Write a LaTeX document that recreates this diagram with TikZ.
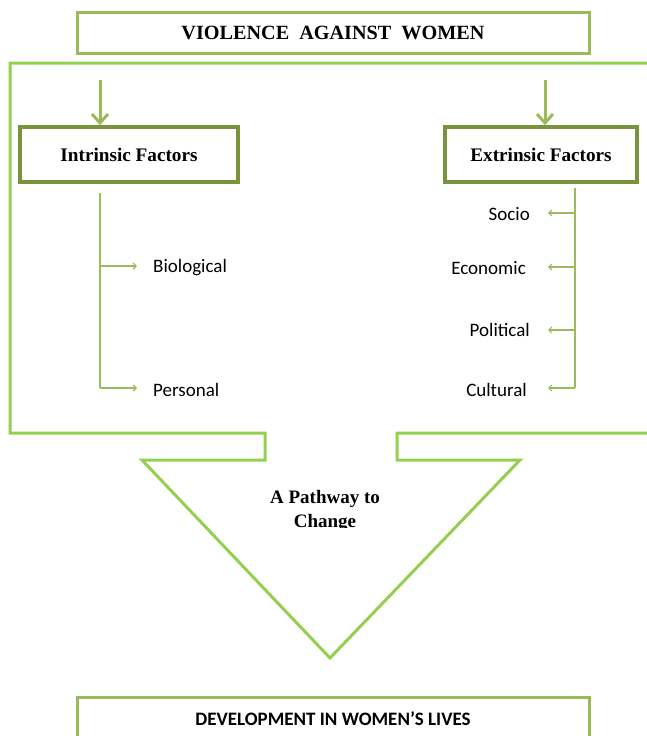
\documentclass[tikz,border=0pt]{standalone}
\usepackage{fontspec}
\setmainfont{Liberation Serif}
\newfontfamily\calib{Carlito}
\usetikzlibrary{arrows.meta}
\definecolor{lgreen}{HTML}{92D050}
\definecolor{mgreen}{HTML}{9BBB59}
\definecolor{dgreen}{HTML}{77933C}
\tikzset{
  titlebox/.style={draw=mgreen, line width=3pt, minimum width=512pt, minimum height=41pt, inner sep=0pt},
  factorbox/.style={draw=dgreen, line width=3.5pt, minimum height=55pt, inner sep=0pt, font=\fontsize{19.2}{22}\selectfont\bfseries},
  bigarrow/.style={draw=mgreen, line width=3pt, -{Straight Barb[length=9pt,width=16pt,line width=3pt]}},
  branch/.style={draw=mgreen, line width=1.2pt, -{Straight Barb[length=3pt,width=6pt,line width=1.2pt]}},
  stem/.style={draw=mgreen, line width=1.2pt},
  lbl/.style={font=\calib\fontsize{19}{22}\selectfont, inner sep=0pt},
}
\begin{document}
\begin{tikzpicture}[x=1pt,y=-1pt]
\useasboundingbox (0,0) rectangle (647,736);
% title
\node[titlebox, font=\fontsize{20.2}{23}\selectfont\bfseries] (title) at (333,32.5) {VIOLENCE\ \ AGAINST\ \ WOMEN};
% outline with funnel
\draw[lgreen, line width=3pt, line join=miter] (660,63) -- (10,63) -- (10,433) -- (265,433) -- (265,460) -- (142,460) -- (330,658) -- (520,460) -- (397,460) -- (397,433) -- (660,433);
% factor boxes
\node[factorbox, minimum width=218pt] (intr) at (129,154.5) {Intrinsic Factors};
\node[factorbox, minimum width=192pt] (extr) at (541,154.5) {Extrinsic Factors};
% big arrows
\coordinate (a1) at (100,80);
\coordinate (a2) at (545,80);
\draw[bigarrow] (a1) -- (intr.north -| a1);
\draw[bigarrow] (a2) -- (extr.north -| a2);
% left tree
\node[lbl, anchor=west] (bio) at (153,268) {Biological};
\node[lbl, anchor=west] (pers) at (153,390) {Personal};
\coordinate (l0) at (100,193);
\coordinate (l1) at (100,266);
\coordinate (l2) at (100,388);
\draw[stem] (l0) -- (l2);
\draw[branch] (l1) -- (137,266);
\draw[branch] (l2) -- (137,388);
% right tree
\node[lbl, anchor=east] (soc) at (530,214) {Socio};
\node[lbl, anchor=east] (eco) at (526,268) {Economic};
\node[lbl, anchor=east] (pol) at (530,330) {Political};
\node[lbl, anchor=east] (cul) at (527,390) {Cultural};
\coordinate (r0) at (575,188);
\coordinate (r1) at (575,213);
\coordinate (r2) at (575,267);
\coordinate (r3) at (575,330);
\coordinate (r4) at (575,388);
\draw[stem] (r0) -- (r4);
\draw[branch] (r1) -- (548,213);
\draw[branch] (r2) -- (548,267);
\draw[branch] (r3) -- (548,330);
\draw[branch] (r4) -- (548,388);
% pathway text
\begin{scope}
\clip (200,470) rectangle (460,527.5);
\node[font=\fontsize{19}{24}\selectfont\bfseries, align=center, inner sep=0pt] (path) at (325,511) {A Pathway to\\Change};
\end{scope}
% bottom box
\draw[mgreen, line width=3pt] (77,745) -- (77,697) -- (589,697) -- (589,745);
\node[font=\calib\fontsize{19}{22}\selectfont\bfseries, inner sep=0pt] (dev) at (333,719) {DEVELOPMENT IN WOMEN’S LIVES};
\end{tikzpicture}
\end{document}
